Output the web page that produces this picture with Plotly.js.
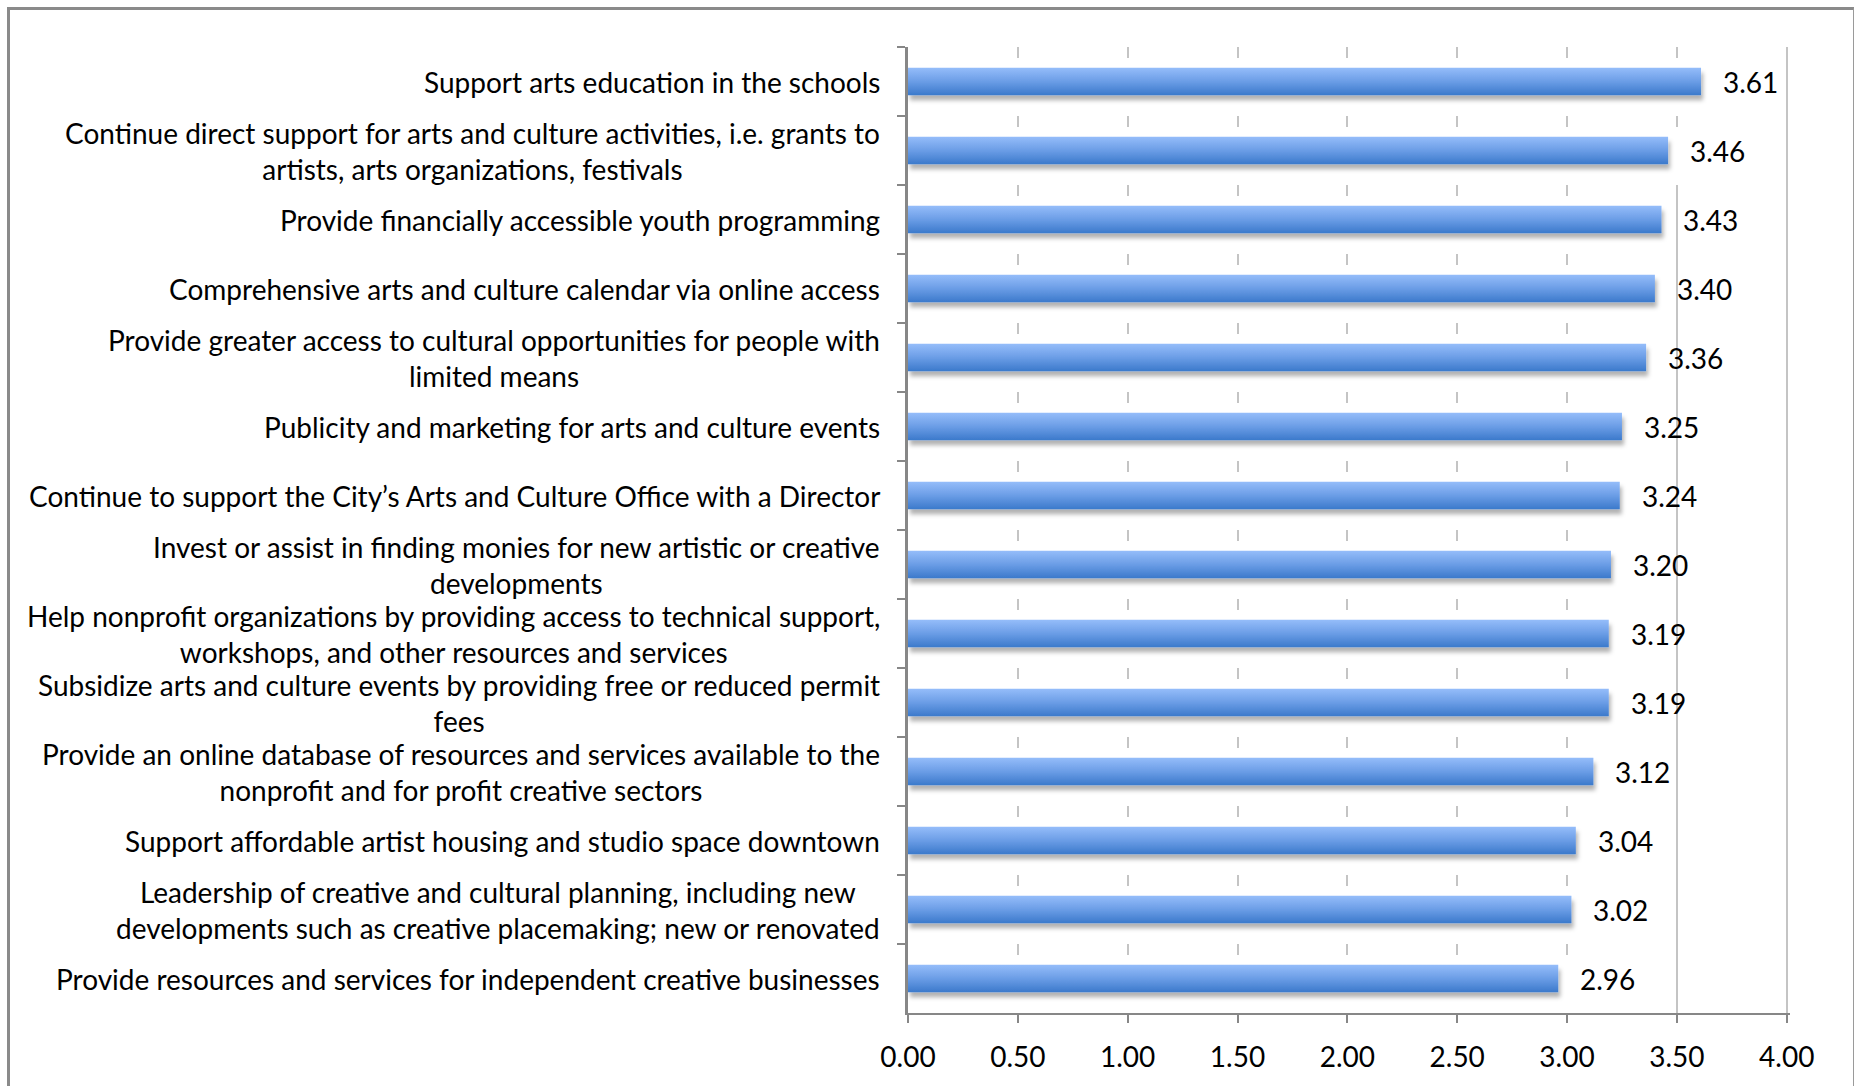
<!DOCTYPE html>
<html>
<head>
<meta charset="utf-8">
<script src="https://cdn.plot.ly/plotly-3.0.1.min.js"></script>
<style>
  html, body { margin: 0; padding: 0; background: #ffffff; }
  #wrap { position: relative; width: 1862px; height: 1086px; overflow: hidden; }
  #plot { position: absolute; left: 0; top: 0; width: 1862px; height: 1086px; }
  #frame { position: absolute; left: 7px; top: 7px; width: 1843px; height: 1100px;
           border-top: 3px solid #8a8a8a; border-left: 3px solid #8a8a8a; border-right: 1px solid #9a9a9a;
           pointer-events: none; }
</style>
</head>
<body>
<div id="wrap">
  <div id="plot"></div>
  <div id="frame"></div>
</div>
<script>
const categories = [
  "Support arts education in the schools",
  "Continue direct support for arts and culture activities, i.e. grants to<br>artists, arts organizations, festivals",
  "Provide financially accessible youth programming",
  "Comprehensive arts and culture calendar via online access",
  "Provide greater access to cultural opportunities for people with<br>limited means",
  "Publicity and marketing for arts and culture events",
  "Continue to support the City\u2019s Arts and Culture Office with a Director",
  "Invest or assist in finding monies for new artistic or creative<br>developments",
  "Help nonprofit organizations by providing access to technical support,<br>workshops, and other resources and services",
  "Subsidize arts and culture events by providing free or reduced permit<br>fees",
  "Provide an online database of resources and services available to the<br>nonprofit and for profit creative sectors",
  "Support affordable artist housing and studio space downtown",
  "Leadership of creative and cultural planning, including new<br>developments such as creative placemaking; new or renovated",
  "Provide resources and services for independent creative businesses"
];
const values = [3.61, 3.46, 3.43, 3.40, 3.36, 3.25, 3.24, 3.20, 3.19, 3.19, 3.12, 3.04, 3.02, 2.96];
const valueLabels = ["3.61", "3.46", "3.43", "3.40", "3.36", "3.25", "3.24", "3.20", "3.19", "3.19", "3.12", "3.04", "3.02", "2.96"];
const xTickVals = [0, 0.5, 1, 1.5, 2, 2.5, 3, 3.5, 4];
const xTickText = ["0.00", "0.50", "1.00", "1.50", "2.00", "2.50", "3.00", "3.50", "4.00"];

const FONT = "Lato, 'Open Sans', sans-serif";
const FSIZE = 28;

const halo = {
  type: 'bar', orientation: 'h', y: categories, x: values,
  width: 0.464, offset: -0.152,
  marker: { color: '#ffffff', line: { color: '#ffffff', width: 26 } },
  hoverinfo: 'skip', showlegend: false
};
const bars = {
  type: 'bar', orientation: 'h', y: categories, x: values,
  width: 0.40, offset: -0.20,
  marker: { color: '#5b8fdc', line: { width: 0 } },
  showlegend: false
};

const annotations = [];
categories.forEach((c, i) => {
  annotations.push({
    xref: 'paper', yref: 'y', x: 0, y: c, xanchor: 'right', yanchor: 'middle',
    xshift: -26, align: 'center', showarrow: false, text: c,
    font: { family: FONT, size: FSIZE, color: '#000000' }
  });
  annotations.push({
    xref: 'x', yref: 'y', x: values[i], y: c, xanchor: 'left', yanchor: 'middle',
    xshift: 20, showarrow: false, text: valueLabels[i],
    font: { family: FONT, size: FSIZE, color: '#000000' }
  });
});

const layout = {
  width: 1862, height: 1086, autosize: false,
  margin: { l: 908, r: 72, t: 47, b: 73, pad: 0 },
  paper_bgcolor: '#ffffff', plot_bgcolor: '#ffffff',
  font: { family: FONT, size: FSIZE, color: '#000000' },
  barmode: 'overlay', showlegend: false,
  xaxis: {
    range: [0, 4.015], tickvals: xTickVals, ticktext: xTickText,
    showgrid: true, gridcolor: '#c4c4c4', gridwidth: 2, zeroline: false,
    showline: true, linecolor: '#878787', linewidth: 2,
    ticks: 'outside', ticklen: 8, tickwidth: 2, tickcolor: '#878787',
    tickfont: { family: FONT, size: FSIZE, color: '#000000' }, ticklabelstandoff: 10
  },
  yaxis: {
    type: 'category', categoryorder: 'array', categoryarray: categories,
    range: [13.5, -0.5], showticklabels: false, showgrid: false, zeroline: false,
    showline: true, linecolor: '#878787', linewidth: 3,
    ticks: 'outside', tickson: 'boundaries', ticklen: 8, tickwidth: 2, tickcolor: '#878787'
  },
  annotations: annotations
};

Plotly.newPlot('plot', [halo, bars], layout, { staticPlot: true, displayModeBar: false }).then(gd => {
  const svg = gd.querySelector('.main-svg');
  const ns = 'http://www.w3.org/2000/svg';
  let defs = svg.querySelector('defs');
  if (!defs) { defs = document.createElementNS(ns, 'defs'); svg.insertBefore(defs, svg.firstChild); }
  const grad = document.createElementNS(ns, 'linearGradient');
  grad.setAttribute('id', 'barGrad');
  grad.setAttribute('x1', '0'); grad.setAttribute('y1', '0');
  grad.setAttribute('x2', '0'); grad.setAttribute('y2', '1');
  [['0', '#95bdfa'], ['0.5', '#6b9de6'], ['1', '#3b79cb']].forEach(s => {
    const st = document.createElementNS(ns, 'stop');
    st.setAttribute('offset', s[0]); st.setAttribute('stop-color', s[1]);
    grad.appendChild(st);
  });
  defs.appendChild(grad);
  const filt = document.createElementNS(ns, 'filter');
  filt.setAttribute('id', 'barShadow');
  filt.setAttribute('x', '-5%'); filt.setAttribute('y', '-30%');
  filt.setAttribute('width', '115%'); filt.setAttribute('height', '190%');
  const ds = document.createElementNS(ns, 'feDropShadow');
  ds.setAttribute('dx', '2'); ds.setAttribute('dy', '5');
  ds.setAttribute('stdDeviation', '2.2');
  ds.setAttribute('flood-color', '#000000'); ds.setAttribute('flood-opacity', '0.3');
  filt.appendChild(ds);
  defs.appendChild(filt);
  const traces = svg.querySelectorAll('.barlayer .trace');
  const blue = traces[traces.length - 1];
  blue.setAttribute('filter', 'url(#barShadow)');
  blue.querySelectorAll('path').forEach(p => { p.style.fill = 'url(#barGrad)'; });
});
</script>
</body>
</html>
